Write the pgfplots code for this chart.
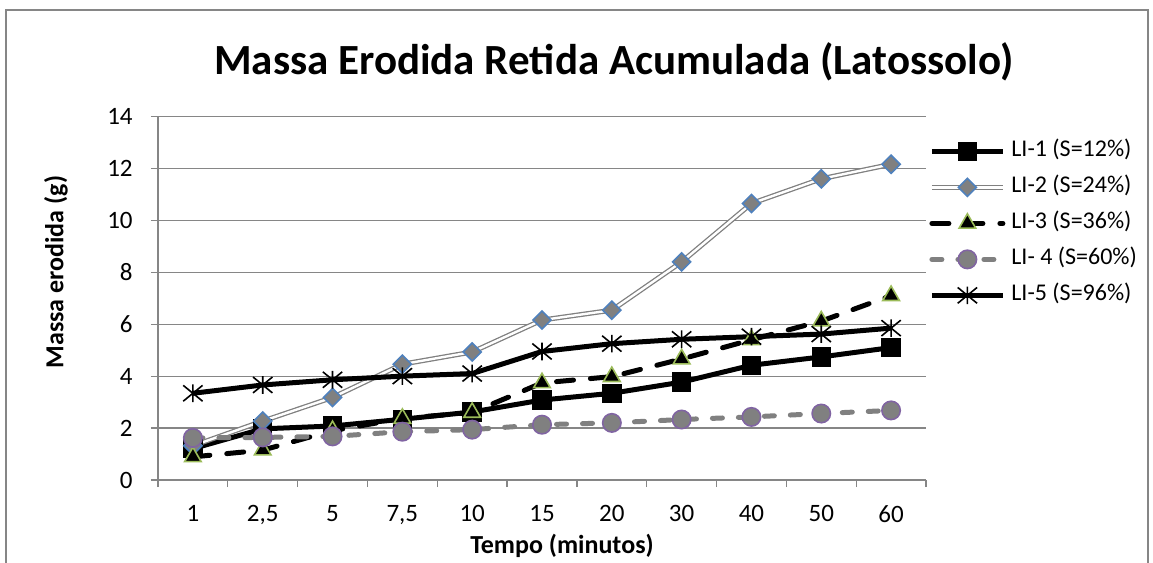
\documentclass[border=0pt]{standalone}
\usepackage{fontspec}
\setmainfont{Carlito}
\usepackage{pgfplots}
\pgfplotsset{compat=1.18}
\definecolor{gridgray}{HTML}{868686}
\definecolor{seriesgray}{HTML}{808080}
\definecolor{diamondblue}{HTML}{4F81BD}
\definecolor{trigreen}{HTML}{9BBB59}
\definecolor{circpurple}{HTML}{8064A2}

% Excel-style star: vertical bar plus an X
\pgfdeclareplotmark{xstar}{%
  \pgfpathmoveto{\pgfqpoint{0pt}{-\pgfplotmarksize}}%
  \pgfpathlineto{\pgfqpoint{0pt}{\pgfplotmarksize}}%
  \pgfpathmoveto{\pgfqpoint{-1.1\pgfplotmarksize}{-.9\pgfplotmarksize}}%
  \pgfpathlineto{\pgfqpoint{1.1\pgfplotmarksize}{.9\pgfplotmarksize}}%
  \pgfpathmoveto{\pgfqpoint{-1.1\pgfplotmarksize}{.9\pgfplotmarksize}}%
  \pgfpathlineto{\pgfqpoint{1.1\pgfplotmarksize}{-.9\pgfplotmarksize}}%
  \pgfusepathqstroke}

\begin{document}
\begin{tikzpicture}[x=1pt,y=1pt]
\useasboundingbox (0,0) rectangle (576.5,281.5);
% chart area frame
\draw[gridgray, line width=0.7pt] (3,-5) -- (3,276.5) -- (574,276.5) -- (574,-5);
\node[font=\fontsize{21.5}{25}\selectfont\bfseries] at (307,250.5) {Massa Erodida Retida Acumulada (Latossolo)};
\begin{axis}[
    scale only axis,
    width=384pt, height=181.75pt,
    at={(79pt,41.5pt)}, anchor=south west,
    xmin=0.5, xmax=11.5, ymin=0, ymax=14,
    axis lines*=left,
    axis line style={gridgray, line width=0.6pt},
    xtick={1,...,11},
    xticklabels={1,{2,5},5,{7,5},10,15,20,30,40,50,60},
    minor xtick={0.5,1.5,...,11.5},
    ytick={0,2,...,14},
    ymajorgrids,
    major grid style={gridgray, line width=0.6pt},
    tick align=outside,
    major tick length=3.5pt, minor tick length=3.5pt,
    tick style={gridgray, line width=0.6pt},
    major x tick style={draw=none},
    /pgf/number format/assume math mode=true,
    ticklabel style={font=\fontsize{12.5}{15}\selectfont, inner sep=0pt},
    yticklabel style={anchor=east, xshift=-9pt},
    xticklabel style={anchor=north, yshift=-9pt},
    xlabel={\bfseries Tempo (minutos)},
    ylabel={\bfseries Massa erodida (g)},
    label style={font=\fontsize{13}{15}\selectfont},
    xlabel style={at={(axis description cs:0.526,-0.18)}, anchor=center},
    ylabel style={at={(axis description cs:-0.133,0.572)}, anchor=center},
    legend style={at={(axis description cs:1.0,0.706)}, anchor=west,
        draw=none, fill=none, font=\fontsize{12}{14}\selectfont,
        inner xsep=1.5pt, inner ysep=0pt, row sep=6pt,
        nodes={inner sep=1pt, text height=7.5pt, text depth=2.5pt},
        /tikz/every odd column/.append style={column sep=2pt}},
    legend cell align=left,
    legend image code/.code={
        \draw[mark repeat=2, mark phase=2] plot coordinates {(0pt,0pt) (17.75pt,0pt) (35.5pt,0pt)};
    },
]
% LI-1
\addplot[black, line width=2.5pt, mark=square*, mark size=4.6pt,
    mark options={solid, fill=black, line width=0.5pt}] coordinates {
    (1,1.21)(2,1.97)(3,2.08)(4,2.34)(5,2.62)(6,3.08)(7,3.34)(8,3.77)(9,4.42)(10,4.74)(11,5.10)
};
\addlegendentry{LI-1 (S=12\%)}
% LI-2 (double line, then marks)
\addplot[forget plot, seriesgray, line width=0.65pt, double=white, double distance=1.2pt] coordinates {
    (1,1.32)(2,2.27)(3,3.18)(4,4.46)(5,4.93)(6,6.16)(7,6.54)(8,8.40)(9,10.65)(10,11.60)(11,12.16)
};
\addplot[only marks, mark=square*, mark size=3.2pt,
    mark options={rotate=45, fill=seriesgray, draw=diamondblue, line width=0.8pt},
    legend image code/.code={
        \draw[seriesgray, line width=0.65pt, double=white, double distance=1.2pt] (0pt,0pt) -- (35.5pt,0pt);
        \filldraw[fill=seriesgray, draw=diamondblue, line width=0.8pt]
            (17.75pt,4.5pt) -- (22.25pt,0pt) -- (17.75pt,-4.5pt) -- (13.25pt,0pt) -- cycle;
    }] coordinates {
    (1,1.32)(2,2.27)(3,3.18)(4,4.46)(5,4.93)(6,6.16)(7,6.54)(8,8.40)(9,10.65)(10,11.60)(11,12.16)
};
\addlegendentry{LI-2 (S=24\%)}
% LI-3
\addplot[black, line width=2.5pt, line cap=round, dash pattern=on 8.5pt off 8.5pt,
    mark=triangle*, mark size=4.8pt,
    mark options={solid, fill=black, draw=trigreen, line width=0.8pt}] coordinates {
    (1,0.89)(2,1.15)(3,1.90)(4,2.37)(5,2.60)(6,3.74)(7,3.98)(8,4.66)(9,5.40)(10,6.12)(11,7.10)
};
\addlegendentry{LI-3 (S=36\%)}
% LI-4
\addplot[seriesgray, line width=2.5pt, line cap=round, dash pattern=on 5pt off 8pt,
    mark=*, mark size=4.6pt,
    mark options={solid, fill=seriesgray, draw=circpurple, line width=0.8pt}] coordinates {
    (1,1.62)(2,1.64)(3,1.68)(4,1.86)(5,1.94)(6,2.13)(7,2.20)(8,2.33)(9,2.43)(10,2.56)(11,2.68)
};
\addlegendentry{LI- 4 (S=60\%)}
% LI-5
\addplot[black, line width=2.5pt, mark=xstar, mark size=4.4pt,
    mark options={solid, line width=0.8pt}] coordinates {
    (1,3.34)(2,3.66)(3,3.86)(4,4.00)(5,4.10)(6,4.95)(7,5.25)(8,5.42)(9,5.52)(10,5.62)(11,5.85)
};
\addlegendentry{LI-5 (S=96\%)}
\end{axis}
\end{tikzpicture}
\end{document}
